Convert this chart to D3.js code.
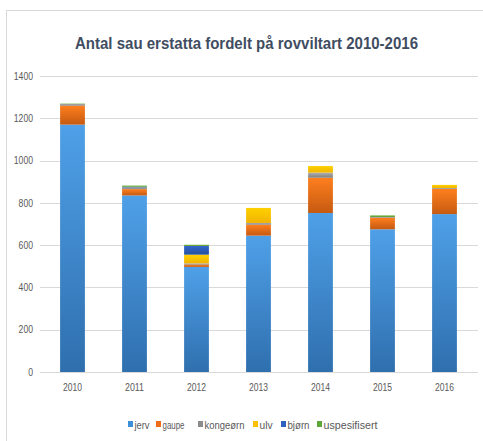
<!DOCTYPE html>
<html><head><meta charset="utf-8">
<script src="https://cdn.jsdelivr.net/npm/d3@7"></script>
<style>body{margin:0;background:#fff;} svg{display:block;}</style>
</head><body>
<svg id="c" width="483" height="441"></svg>
<script>
const years = ["2010","2011","2012","2013","2014","2015","2016"];
const seriesNames = ["jerv","gaupe","kongeørn","ulv","bjørn","uspesifisert"];
const jerv =         [1170, 835, 497, 645, 752, 675, 747];
const gaupe =        [90,   30,  11,  52,  167, 55,  119];
const kongeorn =     [8,    8,   6,   8,   24,  3,   4];
const ulv =          [0,    0,   41,  71,  31,  0,   15];
const bjorn =        [0,    3,   41,  0,   0,   0,   0];
const uspesifisert = [2,    6,   6,   0,   0,   8,   0];
const yTicks = [0,200,400,600,800,1000,1200,1400];
const colors = [["#4fa0e8","#2f6fae"],["#ff7f1e","#c55a11"],["#b0b0b0","#7f7f7f"],["#ffd000","#f0b400"],["#3366cc","#24519e"],["#7dbb4e","#5a9a35"]];
const legendSwatch = ["#3d8fd9","#ee6d1a","#8c8c8c","#ffc000","#2f5fbf","#5fa638"];

const svg = d3.select("#c");
const font = "'Liberation Sans',Arial,sans-serif";
const defs = svg.append("defs");
colors.forEach((c,i)=>{
  const g = defs.append("linearGradient").attr("id","g"+i).attr("x1",0).attr("y1",0).attr("x2",0).attr("y2",1);
  g.append("stop").attr("offset","0%").attr("stop-color",c[0]);
  g.append("stop").attr("offset","100%").attr("stop-color",c[1]);
});

// frame
svg.append("rect").attr("x",6.5).attr("y",10.5).attr("width",490).attr("height",440)
  .attr("fill","none").attr("stroke","#d9d9d9");

svg.append("text").attr("x",246.5).attr("y",49).attr("text-anchor","middle")
  .attr("font-family",font).attr("font-size",17).attr("font-weight","bold").attr("fill","#3f4d62")
  .attr("textLength",343).attr("lengthAdjust","spacingAndGlyphs")
  .text("Antal sau erstatta fordelt på rovviltart  2010-2016");

const x = d3.scaleBand().domain(years).range([41.5,475.5]).paddingInner(0.6).paddingOuter(0.3);
const y = d3.scaleLinear().domain([0,1400]).range([372,76]);

// gridlines
svg.append("g").selectAll("line").data(yTicks).join("line")
  .attr("x1",40).attr("x2",478).attr("y1",d=>Math.round(y(d))+0.5).attr("y2",d=>Math.round(y(d))+0.5)
  .attr("stroke","#d9d9d9").attr("stroke-width",1);

const yAxis = svg.append("g").attr("transform","translate(40,0)")
  .call(d3.axisLeft(y).tickValues(yTicks).tickFormat(d3.format("d")).tickSize(0).tickPadding(7));
yAxis.select(".domain").remove();
yAxis.selectAll("text").attr("font-family",font).attr("font-size",10).attr("fill","#595959")
  .attr("textLength",function(){return this.textContent.length*4.8;}).attr("lengthAdjust","spacingAndGlyphs");

const xAxis = svg.append("g").attr("transform","translate(0,372)")
  .call(d3.axisBottom(x).tickSize(0).tickPadding(12));
xAxis.select(".domain").remove();
xAxis.selectAll("text").attr("font-family",font).attr("font-size",10.5).attr("fill","#595959")
  .attr("textLength",19).attr("lengthAdjust","spacingAndGlyphs");

const table = years.map((yr,i)=>({year:yr, jerv:jerv[i], gaupe:gaupe[i], "kongeørn":kongeorn[i], ulv:ulv[i], "bjørn":bjorn[i], uspesifisert:uspesifisert[i]}));
const stack = d3.stack().keys(seriesNames)(table);

svg.append("g").selectAll("g").data(stack).join("g")
  .attr("fill",(d,i)=>"url(#g"+i+")")
  .selectAll("rect").data(d=>d.filter(p=>p[1]>p[0])).join("rect")
  .attr("x",d=>x(d.data.year)).attr("width",x.bandwidth())
  .attr("y",d=>y(d[1])).attr("height",d=>y(d[0])-y(d[1]));

// legend
const legX = [128,156,198,253,281,317];
const legW = [15,22,40,13,22,54];
const leg = svg.append("g");
seriesNames.forEach((n,i)=>{
  leg.append("rect").attr("x",legX[i]).attr("y",421).attr("width",5).attr("height",6).attr("fill",legendSwatch[i]);
  leg.append("text").attr("x",legX[i]+6.5).attr("y",428.5).attr("font-family",font).attr("font-size",10.5).attr("fill","#595959")
    .attr("textLength",legW[i]).attr("lengthAdjust","spacingAndGlyphs").text(n);
});
</script>
</body></html>
